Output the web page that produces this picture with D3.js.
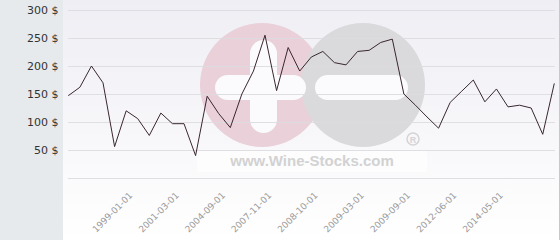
<!DOCTYPE html>
<html lang="en">
<head>
    <meta charset="UTF-8">
    <title>Wine price history</title>
    <script src="https://d3js.org/d3.v7.min.js"></script>
    <style>
        body { margin: 0; background: #fff; }
        svg { display: block; }
    </style>
</head>
<body>
    <div id="chart"></div>
    <script>
        // prices, one per category
        const prices = [147, 162, 200, 170, 56, 120, 106, 76, 116, 97,
                        97, 40, 146, 115, 90, 150, 191, 255, 156, 233,
                        191, 216, 226, 206, 202, 226, 228, 242, 248, 150,
                        130, 109, 89, 135, 155, 175, 136, 159, 127, 130,
                        125, 78, 169];
        const tickLabels = ["1999-01-01", "2001-03-01", "2004-09-01", "2007-11-01", "2008-10-01",
                            "2009-03-01", "2009-09-01", "2012-06-01", "2014-05-01"];
        const tickIndex = [5, 9, 13, 17, 21, 25, 29, 33, 37];
        const yTicks = [0, 50, 100, 150, 200, 250, 300];

        const W = 560, H = 240;
        const plot = { left: 68, right: 555, top: 10, bottom: 178 };

        const svg = d3.select("#chart").append("svg")
            .attr("width", W).attr("height", H);

        const defs = svg.append("defs");
        const grad = defs.append("linearGradient").attr("id", "bg")
            .attr("x1", 0).attr("y1", 0).attr("x2", 0).attr("y2", 1);
        grad.append("stop").attr("offset", "0%").attr("stop-color", "#eeeef4");
        grad.append("stop").attr("offset", "100%").attr("stop-color", "#ffffff");

        // backgrounds
        svg.append("rect").attr("x", 63).attr("y", 0).attr("width", W - 63).attr("height", H)
            .attr("fill", "url(#bg)");
        svg.append("rect").attr("x", 0).attr("y", 0).attr("width", 63).attr("height", H)
            .attr("fill", "#e6eaed");
        svg.append("line").attr("x1", 559.5).attr("x2", 559.5).attr("y1", 0).attr("y2", H)
            .attr("stroke", "#c8c8cc");

        // watermark logo
        const logo = svg.append("g");
        logo.append("circle").attr("cx", 262).attr("cy", 85).attr("r", 62).attr("fill", "#ead0d8");
        logo.append("circle").attr("cx", 363).attr("cy", 85).attr("r", 62).attr("fill", "#dadadc");
        logo.append("rect").attr("x", 250).attr("y", 40).attr("width", 27).attr("height", 93)
            .attr("rx", 13.5).attr("fill", "#fbfafc");
        logo.append("rect").attr("x", 215).attr("y", 75).attr("width", 91).attr("height", 25)
            .attr("rx", 12.5).attr("fill", "#fbfafc");
        logo.append("rect").attr("x", 315).attr("y", 75).attr("width", 93).attr("height", 25)
            .attr("rx", 12.5).attr("fill", "#fbfafc");
        logo.append("circle").attr("cx", 413).attr("cy", 139).attr("r", 6)
            .attr("fill", "none").attr("stroke", "#d4d4d4").attr("stroke-width", 1.5);
        logo.append("text").attr("x", 413).attr("y", 142.5).attr("text-anchor", "middle")
            .attr("font-family", "Liberation Sans, Arial, sans-serif").attr("font-weight", "bold")
            .attr("font-size", 9).attr("fill", "#d4d4d4").text("R");
        logo.append("rect").attr("x", 197).attr("y", 150).attr("width", 230).attr("height", 22)
            .attr("fill", "#ffffff").attr("opacity", 0.6);
        logo.append("text").attr("x", 312).attr("y", 165.5).attr("text-anchor", "middle")
            .attr("font-family", "Liberation Sans, Arial, sans-serif").attr("font-weight", "bold")
            .attr("font-size", 15).attr("fill", "#d2d2d2").text("www.Wine-Stocks.com");

        const x = d3.scalePoint()
            .domain(d3.range(prices.length))
            .range([68.3, 554.3]);

        const y = d3.scaleLinear()
            .domain([0, 300])
            .range([plot.bottom, plot.top]);

        // grid
        svg.append("g").selectAll("line")
            .data(yTicks).enter().append("line")
            .attr("x1", plot.left).attr("x2", plot.right)
            .attr("y1", d => Math.round(y(d)) + 0.5)
            .attr("y2", d => Math.round(y(d)) + 0.5)
            .attr("stroke", "#dcdce0").attr("stroke-opacity", 0.9);

        // y labels
        svg.append("g").selectAll("text")
            .data(yTicks.filter(d => d > 0)).enter().append("text")
            .attr("x", 58.5)
            .attr("y", d => y(d) + 4)
            .attr("text-anchor", "end")
            .attr("font-family", "DejaVu Sans, sans-serif")
            .attr("font-size", 11)
            .attr("fill", "#333")
            .text(d => d + " $");

        // x labels, rotated
        svg.append("g").selectAll("text")
            .data(tickIndex).enter().append("text")
            .attr("transform", d => `translate(${x(d) + 7},196) rotate(-45)`)
            .attr("text-anchor", "end")
            .attr("font-family", "DejaVu Sans, sans-serif")
            .attr("font-size", 9)
            .attr("fill", "#9a9a9a")
            .text((d, i) => tickLabels[i]);

        // price line
        const line = d3.line()
            .x((d, i) => x(i))
            .y(d => y(d));

        svg.append("path")
            .datum(prices)
            .attr("d", line)
            .attr("fill", "none")
            .attr("stroke", "#3a2630")
            .attr("stroke-width", 1);
    </script>
</body>
</html>
